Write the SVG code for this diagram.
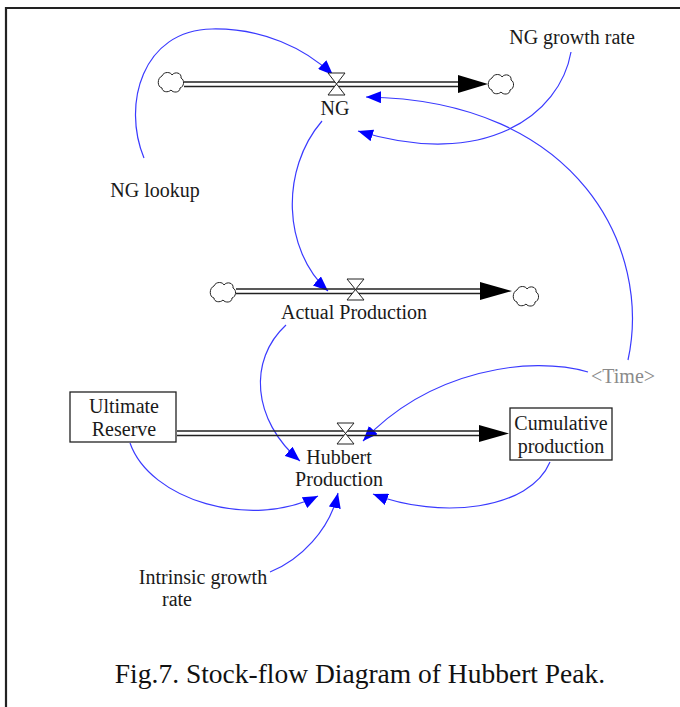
<svg xmlns="http://www.w3.org/2000/svg" width="680" height="707" viewBox="0 0 680 707">
<style>
.t{font-family:"Liberation Serif","Times New Roman",serif;font-size:20px;fill:#1a1a1a;text-anchor:middle}
.g{fill:#8a8a8a}
.c{fill:none;stroke:#3a3aff;stroke-width:1.2}
.p{stroke:#222;stroke-width:1.6}
.cl{fill:#fff;stroke:#222;stroke-width:1}
.v{fill:#fff;stroke:#222;stroke-width:1}
.b{fill:#fff;stroke:#222;stroke-width:1.3}
</style>
<defs>
<marker id="ba" markerUnits="userSpaceOnUse" markerWidth="16" markerHeight="12" refX="15" refY="6" orient="auto"><path d="M0,0 L15,6 L0,12 Z" fill="#0000ff"/></marker>
<path id="cloud" d="M-9,-6 C-7,-11 0,-10 1,-7 C4,-11 11,-9 10,-4 C14,-2 13,5 9,6 C9,11 2,11 0,8 C-3,11 -9,10 -9,6 C-14,5 -14,-4 -9,-6 Z"/>
</defs>
<rect width="680" height="707" fill="#fff"/>
<g id="frame"><path d="M6,707 V8 H680" fill="none" stroke="#222" stroke-width="2.2"/></g>

<g id="connectors">
<path class="c" d="M144,158 C122,105 142,30 212,29 C262,28 305,48 333,75" marker-end="url(#ba)"/>
<path class="c" d="M571,52 C560,115 485,170 358,131" marker-end="url(#ba)"/>
<path class="c" d="M628,360 C652,250 580,100 366,97" marker-end="url(#ba)"/>
<path class="c" d="M322,121 C280,170 283,250 328,291" marker-end="url(#ba)"/>
<path class="c" d="M286,325 C248,360 252,420 300,461" marker-end="url(#ba)"/>
<path class="c" d="M588,372 C530,355 430,370 363,441" marker-end="url(#ba)"/>
<path class="c" d="M130,443 C150,500 250,530 318,496" marker-end="url(#ba)"/>
<path class="c" d="M270,572 C300,560 330,530 338,493" marker-end="url(#ba)"/>
<path class="c" d="M550,462 C530,510 440,520 373,494" marker-end="url(#ba)"/>
</g>

<g id="ng-flow">
<line class="p" x1="184" y1="82" x2="460" y2="82"/>
<line class="p" x1="184" y1="86.5" x2="460" y2="86.5"/>
<path d="M458,75 L488,84 L458,93 Z" fill="#000"/>
<use href="#cloud" x="171" y="82" class="cl"/>
<use href="#cloud" x="501" y="84" class="cl"/>
<path class="v" d="M328,73 H345 L328,95 H345 Z"/>
</g>
<g id="NG"><text class="t" x="335" y="115">NG</text></g>
<g id="ng-growth-rate"><text class="t" x="572" y="44">NG growth rate</text></g>
<g id="ng-lookup"><text class="t" x="155" y="197">NG lookup</text></g>

<g id="ap-flow">
<line class="p" x1="236" y1="289" x2="482" y2="289"/>
<line class="p" x1="236" y1="293.5" x2="482" y2="293.5"/>
<path d="M480,282 L512,291 L480,300 Z" fill="#000"/>
<use href="#cloud" x="223" y="292" class="cl"/>
<use href="#cloud" x="526" y="296" class="cl"/>
<path class="v" d="M347,279 H364 L347,300 H364 Z"/>
</g>
<g id="actual-production"><text class="t" x="354" y="319">Actual Production</text></g>

<g id="ultimate-reserve">
<rect class="b" x="70" y="392" width="106" height="50"/>
<text class="t" x="124" y="413">Ultimate</text>
<text class="t" x="124" y="436">Reserve</text>
</g>
<g id="hp-flow">
<line class="p" x1="177" y1="431" x2="482" y2="431"/>
<line class="p" x1="177" y1="435.5" x2="482" y2="435.5"/>
<path d="M479,425 L509,433.5 L479,442 Z" fill="#000"/>
<path class="v" d="M337,423 H354 L337,444 H354 Z"/>
</g>
<g id="cumulative-production">
<rect class="b" x="510" y="408" width="102" height="52"/>
<text class="t" x="561" y="430">Cumulative</text>
<text class="t" x="561" y="453">production</text>
</g>
<g id="hubbert-production">
<text class="t" x="339" y="464">Hubbert</text>
<text class="t" x="339" y="486">Production</text>
</g>
<g id="time"><text class="t g" x="623" y="383">&lt;Time&gt;</text></g>
<g id="intrinsic-growth-rate">
<text class="t" x="203" y="584">Intrinsic growth</text>
<text class="t" x="177" y="606">rate</text>
</g>
<g id="caption"><text x="360" y="683" style="font-family:'Liberation Serif','Times New Roman',serif;font-size:27.5px;fill:#111;text-anchor:middle">Fig.7. Stock-flow Diagram of Hubbert Peak.</text></g>
</svg>
